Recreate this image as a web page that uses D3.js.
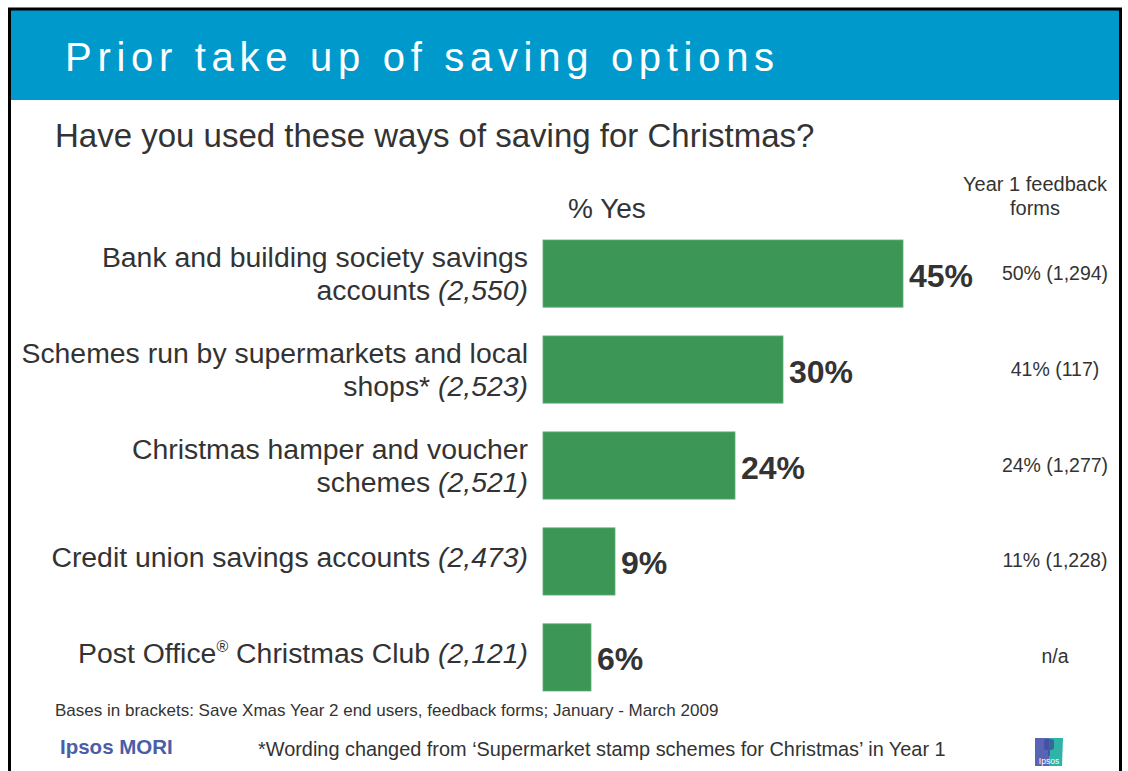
<!DOCTYPE html>
<html>
<head>
<meta charset="utf-8">
<script src="https://cdn.jsdelivr.net/npm/d3@7"></script>
<style>
  html, body { margin: 0; padding: 0; background: #fff; }
  svg { display: block; font-family: "Liberation Sans", Arial, sans-serif; }
</style>
</head>
<body>
<svg id="chart" width="1128" height="771"></svg>
<script>
// Survey question: "Have you used these ways of saving for Christmas?"
const categories = [
  "Bank and building society savings accounts",
  "Schemes run by supermarkets and local shops*",
  "Christmas hamper and voucher schemes",
  "Credit union savings accounts",
  "Post Office® Christmas Club"
];
// Category text split into display lines
const labelLines = [
  ["Bank and building society savings", "accounts"],
  ["Schemes run by supermarkets and local", "shops*"],
  ["Christmas hamper and voucher", "schemes"],
  ["Credit union savings accounts"],
  ["Post Office® Christmas Club"]
];
const bases = ["(2,550)", "(2,523)", "(2,521)", "(2,473)", "(2,121)"];
const yesPct = [45, 30, 24, 9, 6];
const year1Labels = ["50% (1,294)", "41% (117)", "24% (1,277)", "11% (1,228)", "n/a"];

const svg = d3.select("#chart");
const textCol = "#333333";
const barCol = "#3c9757";

// Slide frame and header band
svg.append("rect").attr("x", 0).attr("y", 0).attr("width", 1128).attr("height", 771).attr("fill", "#fff");
svg.append("rect").attr("x", 11).attr("y", 10).attr("width", 1108).attr("height", 90).attr("fill", "#0099cc");
svg.append("path")
  .attr("d", "M9.5,800 V9 H1120.5 V800")
  .attr("fill", "none").attr("stroke", "#000").attr("stroke-width", 3);

svg.append("text")
  .attr("x", 65).attr("y", 71)
  .attr("fill", "#fff")
  .attr("font-size", 40)
  .attr("letter-spacing", 5.7)
  .text("Prior take up of saving options");

svg.append("text")
  .attr("x", 55).attr("y", 147)
  .attr("fill", textCol)
  .attr("font-size", 33)
  .text("Have you used these ways of saving for Christmas?");

svg.append("text")
  .attr("x", 568).attr("y", 218)
  .attr("fill", textCol)
  .attr("font-size", 28)
  .text("% Yes");

const hdr = svg.append("text")
  .attr("text-anchor", "middle")
  .attr("fill", textCol)
  .attr("font-size", 20);
hdr.append("tspan").attr("x", 1035).attr("y", 191).text("Year 1 feedback");
hdr.append("tspan").attr("x", 1035).attr("y", 215).text("forms");

// Scales
const x = d3.scaleLinear().domain([0, 50]).range([543, 943]);
const y = d3.scaleBand().domain(categories).range([240, 691]).paddingInner(0.3).paddingOuter(0);

const rows = categories.map((c, i) => ({
  cat: c, lines: labelLines[i], base: bases[i], v: yesPct[i], y1: year1Labels[i]
}));

const g = svg.append("g");

g.selectAll("rect.bar").data(rows).join("rect")
  .attr("class", "bar")
  .attr("x", x(0))
  .attr("y", d => y(d.cat))
  .attr("width", d => x(d.v) - x(0))
  .attr("height", y.bandwidth())
  .attr("fill", barCol)
  .attr("stroke", "#5fae76").attr("stroke-width", 0.8);

g.selectAll("text.val").data(rows).join("text")
  .attr("class", "val")
  .attr("x", d => x(d.v) + 6)
  .attr("y", d => y(d.cat) + y.bandwidth() / 2 + 13)
  .attr("fill", textCol)
  .attr("font-size", 32)
  .attr("font-weight", "bold")
  .text(d => d.v + "%");

g.selectAll("text.y1").data(rows).join("text")
  .attr("class", "y1")
  .attr("x", 1055)
  .attr("y", d => y(d.cat) + y.bandwidth() / 2 + 6)
  .attr("text-anchor", "middle")
  .attr("fill", textCol)
  .attr("font-size", 19.5)
  .text(d => d.y1);

// Category labels, right aligned against the bars, base in italics
const lab = g.selectAll("text.cat").data(rows).join("text")
  .attr("class", "cat")
  .attr("text-anchor", "end")
  .attr("fill", textCol)
  .attr("font-size", 28.4);

lab.each(function (d) {
  const t = d3.select(this);
  const cy = y(d.cat) + y.bandwidth() / 2;
  if (d.lines.length === 2) {
    t.append("tspan").attr("x", 528).attr("y", cy - 7).text(d.lines[0]);
    t.append("tspan").attr("x", 528).attr("y", cy + 26).text(d.lines[1] + " ");
    t.append("tspan").attr("font-style", "italic").text(d.base);
  } else {
    const parts = d.lines[0].split("®");
    const first = t.append("tspan").attr("x", 528).attr("y", cy + 6).text(parts[0]);
    if (parts.length > 1) {
      t.append("tspan").attr("font-size", 16).attr("dy", -11).text("®");
      t.append("tspan").attr("dy", 11).text(parts[1] + " ");
    } else {
      first.text(parts[0] + " ");
    }
    t.append("tspan").attr("font-style", "italic").text(d.base);
  }
});

// Footer
svg.append("text")
  .attr("x", 55).attr("y", 716)
  .attr("fill", textCol)
  .attr("font-size", 17)
  .text("Bases in brackets: Save Xmas Year 2 end users, feedback forms; January - March 2009");

svg.append("text")
  .attr("x", 258).attr("y", 756)
  .attr("fill", textCol)
  .attr("font-size", 19.9)
  .text("*Wording changed from \u2018Supermarket stamp schemes for Christmas\u2019 in Year 1");

svg.append("text")
  .attr("x", 60).attr("y", 754)
  .attr("fill", "#4a5ea8")
  .attr("font-size", 20.5)
  .attr("font-weight", "bold")
  .text("Ipsos MORI");

// Small Ipsos mark
const logo = svg.append("g").attr("transform", "translate(1035,738)");
logo.append("rect").attr("width", 14).attr("height", 28).attr("fill", "#5a64b4");
logo.append("path").attr("d", "M14,0 H28 L27,28 H14 Z").attr("fill", "#2fb3a6");
logo.append("path").attr("d", "M9,4 Q9,1 12,1 H16 Q19,1 19,4 V9 Q19,12 16,12 H15 V18 H13 V12 H12 Q9,12 9,9 Z")
  .attr("fill", "#3c4c9c").attr("opacity", 0.75);
logo.append("text").attr("x", 14).attr("y", 25.5).attr("text-anchor", "middle")
  .attr("fill", "#fff").attr("font-size", 8.5).text("Ipsos");
</script>
</body>
</html>
